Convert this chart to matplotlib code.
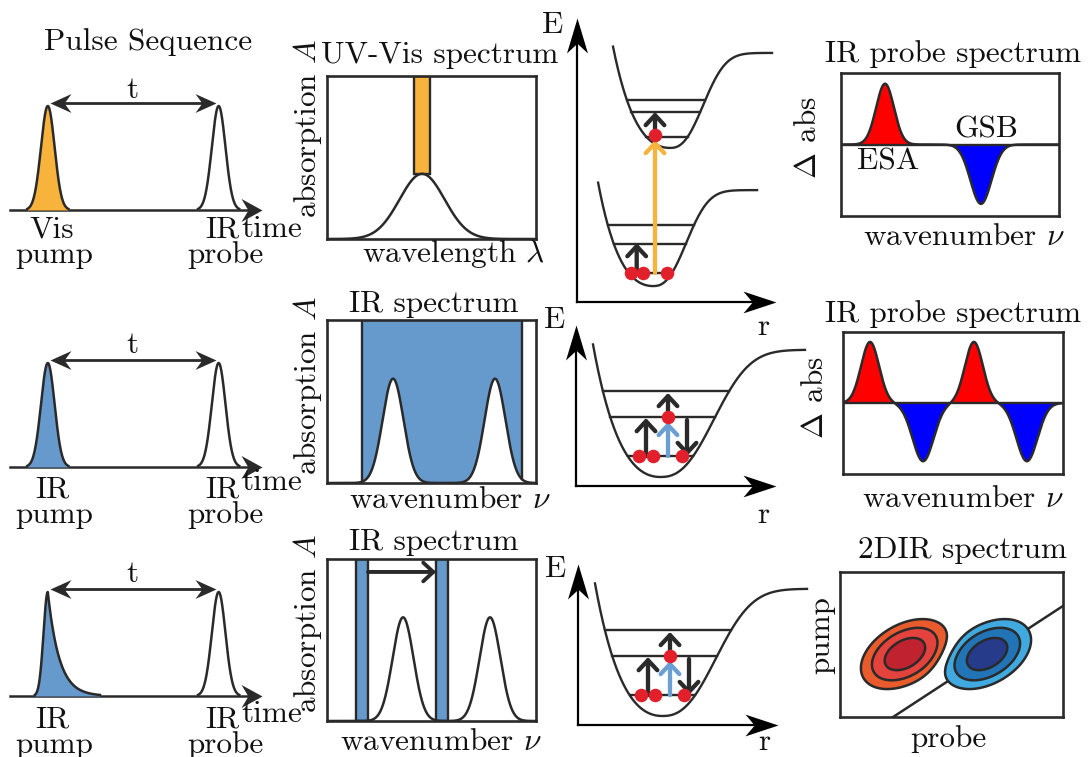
import numpy as np
import matplotlib.pyplot as plt
from matplotlib.path import Path
from matplotlib.patches import Rectangle

plt.rcParams["font.family"] = "cmr10"
plt.rcParams["mathtext.fontset"] = "cm"
plt.rcParams["axes.unicode_minus"] = False

W, H = 1091, 757
INK = "#2a2a2a"
ORANGE = "#F7B33B"
IR_BLUE = "#6699CC"
ARROW_BLUE = "#6B9FD3"
DOT_RED = "#E2202C"
FS = 22.5

# ---- pulse sequences (time axis runs 0..10) ----
pump_t = [1.5, 1.5, 1.5]
probe_t = [8.28, 8.28, 8.28]
pulse_sigma = 0.27
pump_rise = 0.17
pump_tau = [None, None, 0.45]
pump_colors = [ORANGE, IR_BLUE, IR_BLUE]
pump_names = ["Vis", "IR", "IR"]

# ---- steady state spectra (x axis 0..1) ----
uvvis_center, uvvis_height, uvvis_sigma = 0.455, 0.40, 0.108
uvvis_band = (0.416, 0.493)
ir_centers = [[0.316, 0.804], [0.364, 0.78]]
ir_height, ir_sigma = 0.64, 0.05
ir_broadband = (0.167, 0.933)
ir_narrow_bands = [(0.139, 0.196), (0.522, 0.579)]

# ---- transient IR spectra ----
esa_centers = [[0.202], [0.123, 0.595]]
esa_amp = [[0.85], [0.86, 0.86]]
gsb_centers = [[0.642], [0.364, 0.836]]
gsb_amp = [[0.83], [0.82, 0.82]]
esa_sigma, gsb_sigma = 0.041, 0.048

# ---- 2D IR spectrum ----
peak_pos = [(0.448, 0.434), (1.014, 0.434)]
peak_sign = [1, -1]
peak_widths = (0.154, 0.0946)
peak_tilt = 30
diag_probe = [0.366, 1.538]
diag_pump = [0.0, 0.766]
contour_levels = [0.1, 0.274, 0.614]
red_shades = ["#E95B2D", "#E4423C", "#C0232F"]
blue_shades = ["#40AAE0", "#2175B7", "#263B8A"]

# ---- potential energy curves ----
pot_ground = dict(re=0.382, emin=0.099, depth=0.596, a=2.58, w=0.205, r0=0.106, r1=0.905)
pot_excited = dict(re=0.467, emin=0.957, depth=0.59, a=2.48, w=0.205, r0=0.181, r1=0.98)
pot_ir = dict(re=0.42, emin=0.056, depth=0.79, a=2.1, w=0.33, r0=0.085, r1=1.145)
levels_ground = [0.180, 0.360, 0.478]
levels_excited = [1.025, 1.180, 1.255]
levels_ir = [0.186, 0.429, 0.59]
dots_vis = [(0.271, 0.180), (0.332, 0.180), (0.452, 0.180), (0.392, 1.04)]
dots_ir = [(0.315, 0.186), (0.385, 0.186), (0.53, 0.186), (0.46, 0.429)]
arrows_vis = [(0.30, 0.20, 0.366, INK), (0.392, 0.18, 1.006, ORANGE), (0.392, 1.06, 1.18, INK)]
arrows_ir = [(0.35, 0.186, 0.422, INK), (0.46, 0.186, 0.398, ARROW_BLUE),
             (0.46, 0.44, 0.578, INK), (0.555, 0.41, 0.186, INK)]


def gauss(x, c, s):
    return np.exp(-(x - c) ** 2 / (2 * s ** 2))


def potential(r, p):
    x = r - p["re"]
    left = p["depth"] * (np.exp(-p["a"] * x) - 1) ** 2
    right = p["depth"] * (1 - np.exp(-(np.clip(x, 0, None) / p["w"]) ** 2.5))
    return p["emin"] + np.where(x < 0, left, right)


def level_span(p, e):
    r = np.linspace(p["r0"], p["r1"], 4000)
    v = potential(r, p)
    lft = r <= p["re"]
    rgt = r >= p["re"]
    rl = np.interp(e, v[lft][::-1], r[lft][::-1])
    rr = np.interp(e, v[rgt], r[rgt])
    return rl, rr


fig = plt.figure(figsize=(W / 100, H / 100), dpi=100)
# overlay in pixel coordinates for all labels, kept above the panels
ov = fig.add_axes([0, 0, 1, 1])
ov.set_xlim(0, W)
ov.set_ylim(H, 0)
ov.axis("off")
ov.set_zorder(10)


def panel(x0, y0, x1, y1, frame=False):
    ax = fig.add_axes([x0 / W, 1 - y1 / H, (x1 - x0) / W, (y1 - y0) / H])
    if frame:
        ax.set_xticks([])
        ax.set_yticks([])
        for s in ax.spines.values():
            s.set_linewidth(1.9)
            s.set_color(INK)
    else:
        ax.axis("off")
    return ax


def head(ax, x, y, angle, length, half_width, notch, color=INK, z=6):
    v = np.array([[0, 0], [-1, half_width], [-notch, 0], [-1, -half_width], [0, 0]])
    a = np.deg2rad(angle)
    rot = np.array([[np.cos(a), -np.sin(a)], [np.sin(a), np.cos(a)]])
    path = Path(v @ rot.T, [Path.MOVETO, Path.LINETO, Path.LINETO, Path.LINETO, Path.CLOSEPOLY])
    ax.plot([x], [y], marker=path, ms=2 * length * 0.72, color=color, mew=0,
            clip_on=False, zorder=z)


def txt(x, y, s, rot=0, va="baseline"):
    ov.text(x, y, s, fontsize=FS, ha="center", va=va, rotation=rot, color="#111111")


# ---- column 1: pulse sequences ----
baselines = [210, 467, 696]
t = np.linspace(0, 10, 2000)
for i, yb in enumerate(baselines):
    ax = panel(10, yb - 104, 262, yb)
    ax.set_xlim(0, 10)
    ax.set_ylim(0, 1)
    ax.plot([0, 9.6], [0, 0], color=INK, lw=1.8, clip_on=False, zorder=2)
    head(ax, 10, 0, 0, 21, 0.55, 0.67)
    if pump_tau[i] is None:
        yp = gauss(t, pump_t[i], pulse_sigma)
    else:
        yp = np.where(t < pump_t[i], gauss(t, pump_t[i], pump_rise),
                      np.exp(-(t - pump_t[i]) / pump_tau[i]))
    yq = gauss(t, probe_t[i], pulse_sigma)
    for y, c in [(yp, pump_colors[i]), (yq, None)]:
        m = y > 0.01
        if c is not None:
            ax.fill_between(t[m], 0, y[m], color=c, lw=0, zorder=3)
        ax.plot(t[m], y[m], color=INK, lw=1.8, zorder=4, clip_on=False)
    ya = 1.03
    ax.plot([pump_t[i] + 0.3, probe_t[i] - 0.35], [ya, ya], color=INK, lw=2.0, clip_on=False)
    head(ax, pump_t[i] + 0.08, ya, 180, 21, 0.45, 0.67)
    head(ax, probe_t[i] - 0.12, ya, 0, 21, 0.45, 0.67)

t_base = [98, 353, 582]
name_base = [237, 497, 727]
time_base = [237, 490, 722]
for i in range(3):
    txt(132, t_base[i], "t")
    txt(52, name_base[i], pump_names[i])
    txt(54, name_base[i] + 26, "pump")
    txt(222, name_base[i], "IR")
    txt(225, name_base[i] + 26, "probe")
    txt(272, time_base[i], "time")
txt(148, 50, "Pulse Sequence")

# ---- column 2: absorption spectra ----
x = np.linspace(0, 1, 800)
ax = panel(327, 76, 536, 239, frame=True)
ax.set_xlim(0, 1)
ax.set_ylim(0, 1)
ax.plot(x, uvvis_height * gauss(x, uvvis_center, uvvis_sigma), color=INK, lw=1.8)
ax.add_patch(Rectangle((uvvis_band[0], uvvis_height), uvvis_band[1] - uvvis_band[0],
                       1 - uvvis_height, fc=ORANGE, ec=INK, lw=1.7))

ax = panel(327, 320, 536, 483, frame=True)
ax.set_xlim(0, 1)
ax.set_ylim(0, 1)
y = sum(ir_height * gauss(x, c, ir_sigma) for c in ir_centers[0])
m = (x >= ir_broadband[0]) & (x <= ir_broadband[1])
ax.fill_between(x[m], y[m], 1, color=IR_BLUE, lw=0)
for xb in ir_broadband:
    ax.plot([xb, xb], [np.interp(xb, x, y), 1], color=INK, lw=1.7)
ax.plot(x, y, color=INK, lw=1.8)

ax = panel(327, 559, 536, 721, frame=True)
ax.set_xlim(0, 1)
ax.set_ylim(0, 1)
for b0, b1 in ir_narrow_bands:
    ax.add_patch(Rectangle((b0, 0), b1 - b0, 1, fc=IR_BLUE, ec=INK, lw=1.7))
y = sum(ir_height * gauss(x, c, ir_sigma) for c in ir_centers[1])
ax.plot(x, y, color=INK, lw=1.8)
ax.annotate("", xy=(ir_narrow_bands[1][0], 0.92), xytext=(ir_narrow_bands[0][1], 0.92),
            arrowprops=dict(arrowstyle="->,head_length=0.45,head_width=0.42",
                            mutation_scale=16, lw=2.8, color=INK, shrinkA=0, shrinkB=0))

txt(440, 63, "UV-Vis spectrum")
txt(434, 312, "IR spectrum")
txt(434, 550, "IR spectrum")
for yc in [128, 385, 623]:
    txt(307, yc, "absorption $A$", rot=90, va="center")
txt(454, 262, r"wavelength $\lambda$")
txt(450, 508, r"wavenumber $\nu$")
txt(441, 750, r"wavenumber $\nu$")


# ---- column 3: potential energy diagrams ----
def draw_energy(ax, ytop, pots, level_sets, dots, arrows):
    ax.set_xlim(0, 1)
    ax.set_ylim(0, ytop)
    ax.plot([0, 0], [0, ytop - 0.1], color="black", lw=1.6, clip_on=False)
    ax.plot([0, 0.95], [0, 0], color="black", lw=1.6, clip_on=False)
    head(ax, 0, ytop, 90, 35, 0.3, 0.72, "black")
    head(ax, 1, 0, 0, 33, 0.33, 0.72, "black")
    for p, levels in zip(pots, level_sets):
        r = np.linspace(p["r0"], p["r1"], 800)
        ax.plot(r, potential(r, p), color=INK, lw=1.7, clip_on=False)
        for e in levels:
            rl, rr = level_span(p, e)
            ax.plot([rl, rr], [e, e], color=INK, lw=1.7)
    for r, e0, e1, c in arrows:
        ax.annotate("", xy=(r, e1), xytext=(r, e0),
                    arrowprops=dict(arrowstyle="->,head_length=0.45,head_width=0.42",
                                    mutation_scale=16, lw=3.1, color=c,
                                    shrinkA=0, shrinkB=0), zorder=4)
    dx, dy = zip(*dots)
    ax.scatter(dx, dy, s=95, color=DOT_RED, linewidths=0, zorder=6, clip_on=False)


ax = panel(577, 18, 776, 302)
draw_energy(ax, 284 / 161, [pot_ground, pot_excited], [levels_ground, levels_excited],
            dots_vis, arrows_vis)
ax = panel(576, 325, 776, 486)
draw_energy(ax, 1.0, [pot_ir], [levels_ir], dots_ir, arrows_ir)
ax = panel(578, 564, 778, 725)
draw_energy(ax, 1.0, [pot_ir], [levels_ir], dots_ir, arrows_ir)

txt(553, 33, "E")
txt(555, 328, "E")
txt(556, 577, "E")
txt(763, 335, "r")
txt(763, 523, "r")
txt(764, 750, "r")

# ---- column 4: transient and 2D spectra ----
for k, box in enumerate([(841, 73, 1059, 216), (843, 332, 1063, 474)]):
    ax = panel(*box, frame=True)
    ax.set_xlim(0, 1)
    ax.set_ylim(-1, 1)
    y = sum(a * gauss(x, c, esa_sigma) for c, a in zip(esa_centers[k], esa_amp[k]))
    y = y - sum(a * gauss(x, c, gsb_sigma) for c, a in zip(gsb_centers[k], gsb_amp[k]))
    ax.fill_between(x, 0, y, where=y > 0, color="#FF0000", lw=0)
    ax.fill_between(x, 0, y, where=y < 0, color="#0000FF", lw=0)
    ax.axhline(0, color=INK, lw=1.7)
    ax.plot(x, y, color=INK, lw=1.8)

ax = panel(840, 572, 1063, 717, frame=True)
ax.set_xlim(0, 223 / 145)
ax.set_ylim(0, 1)
px, py = np.meshgrid(np.linspace(0, 223 / 145, 500), np.linspace(0, 1, 330))
th = np.deg2rad(peak_tilt)
Z = np.zeros_like(px)
for (cx, cy), sg in zip(peak_pos, peak_sign):
    u = (px - cx) * np.cos(th) + (py - cy) * np.sin(th)
    v = -(px - cx) * np.sin(th) + (py - cy) * np.cos(th)
    Z += sg * np.exp(-u ** 2 / (2 * peak_widths[0] ** 2) - v ** 2 / (2 * peak_widths[1] ** 2))
ax.plot(diag_probe, diag_pump, color=INK, lw=1.8, zorder=1)
ax.contourf(px, py, Z, levels=contour_levels + [1.1], colors=red_shades, zorder=2)
ax.contourf(px, py, Z, levels=[-1.1] + [-c for c in contour_levels[::-1]],
            colors=blue_shades[::-1], zorder=2)
ax.contour(px, py, Z, levels=[-c for c in contour_levels[::-1]] + contour_levels,
           colors=INK, linewidths=1.8, linestyles="solid", zorder=3)

txt(953, 62, "IR probe spectrum")
txt(953, 322, "IR probe spectrum")
txt(962, 558, "2DIR spectrum")
txt(808, 138, r"$\Delta$ abs", rot=90, va="center")
txt(815, 398, r"$\Delta$ abs", rot=90, va="center")
txt(821, 635, "pump", rot=90, va="center")
txt(964, 245, r"wavenumber $\nu$")
txt(963, 507, r"wavenumber $\nu$")
txt(948, 747, "probe")
txt(888, 170, "ESA")
txt(986, 137, "GSB")

fig.savefig("out.png", dpi=100, facecolor="white")
